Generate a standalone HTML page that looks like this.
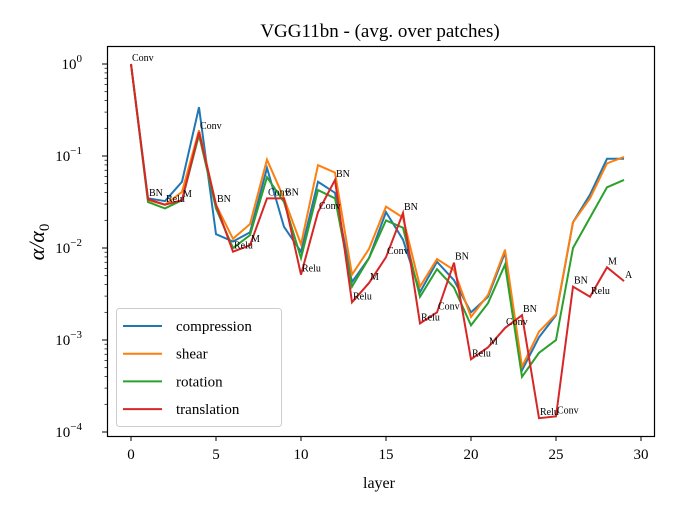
<!DOCTYPE html>
<html><head><meta charset="utf-8"><style>
html,body{margin:0;padding:0;background:#fff;}
svg{display:block;font-family:"Liberation Serif","DejaVu Serif",serif;}
</style></head><body>
<svg id="chart" width="674" height="512" viewBox="0 0 674 512">
<rect width="674" height="512" fill="#fff"/>
<text x="380" y="37" font-size="19" text-anchor="middle">VGG11bn - (avg. over patches)</text>
<text x="379" y="488" font-size="16" text-anchor="middle">layer</text>
<text transform="translate(44,242) rotate(-90)" font-size="22" font-style="italic" text-anchor="middle">α/α<tspan font-size="15" dy="5" font-style="normal">0</tspan></text>
<g id="grid"></g>
<g id="series"></g>
<g id="annots"></g>
<rect x="107.5" y="46.5" width="547" height="390" fill="none" stroke="#000" stroke-width="1.2"/>
<g id="legend"></g>
</svg>
<script>
// layer index
const layers = [0,1,2,3,4,5,6,7,8,9,10,11,12,13,14,15,16,17,18,19,20,21,22,23,24,25,26,27,28,29];
// log10(alpha/alpha0) per series
const compressionLog = [0,-1.46,-1.49,-1.28,-0.47,-1.85,-1.93,-1.83,-1.13,-1.77,-2.04,-1.28,-1.40,-2.37,-2.11,-1.61,-1.91,-2.48,-2.15,-2.35,-2.70,-2.53,-2.05,-3.33,-2.97,-2.73,-1.72,-1.42,-1.03,-1.03];
const shearLog = [0,-1.48,-1.53,-1.39,-0.72,-1.53,-1.90,-1.74,-1.04,-1.46,-1.96,-1.10,-1.18,-2.29,-2.01,-1.55,-1.67,-2.42,-2.12,-2.24,-2.75,-2.51,-2.02,-3.29,-2.91,-2.72,-1.72,-1.46,-1.08,-1.01];
const rotationLog = [0,-1.50,-1.57,-1.48,-0.77,-1.57,-2.00,-1.86,-1.23,-1.50,-2.11,-1.37,-1.46,-2.42,-2.11,-1.70,-1.78,-2.53,-2.23,-2.43,-2.84,-2.60,-2.18,-3.40,-3.14,-3.00,-2.00,-1.67,-1.34,-1.26];
const translationLog = [0,-1.47,-1.53,-1.48,-0.74,-1.53,-2.04,-1.97,-1.46,-1.46,-2.29,-1.61,-1.26,-2.59,-2.38,-2.10,-1.62,-2.82,-2.70,-2.16,-3.21,-3.08,-2.87,-2.73,-3.85,-3.83,-2.42,-2.53,-2.21,-2.36];
const layerNames = ["Conv","BN","Relu","M","Conv","BN","Relu","M","Conv","BN","Relu","Conv","BN","Relu","M","Conv","BN","Relu","Conv","BN","Relu","M","Conv","BN","Relu","Conv","BN","Relu","M","A"];
const xTicks = [0,5,10,15,20,25,30];
const yTickExps = [0,-1,-2,-3,-4];
const seriesNames = ["compression","shear","rotation","translation"];

const NS="http://www.w3.org/2000/svg";
function X(v){return 131+v*17;}
function Y(e){return 64-e*92;}
function mk(tag,attrs,parent){const el=document.createElementNS(NS,tag);for(const k in attrs)el.setAttribute(k,attrs[k]);parent.appendChild(el);return el;}
const grid=document.getElementById('grid');
xTicks.forEach(t=>{
  const l=mk('line',{x1:X(t),x2:X(t),y1:436,y2:441,stroke:'#000','stroke-width':1},grid);
  
  
  const tx=mk('text',{x:X(t),y:459,'font-size':15,'text-anchor':'middle'},grid);
  tx.textContent=t;
  
  
});
yTickExps.forEach(e=>{
  const l=mk('line',{x1:102,x2:107,y1:Y(e),y2:Y(e),stroke:'#000','stroke-width':1},grid);
  
  
  const tx=mk('text',{x:82,y:Y(e)+5,'font-size':15,'text-anchor':'end'},grid);
  tx.textContent='10';
  mk('tspan',{dy:-7,'font-size':11},tx).textContent=String(e).replace('-','−');
  
  
  if(e>-4||true){
    for(let m=2;m<10;m++){
      const yy=Y(e-1+Math.log10(m));
      if(yy<47||yy>436)continue;
      const ml=mk('line',{x1:104.5,x2:107,y1:yy,y2:yy,stroke:'#000','stroke-width':0.7},grid);
      
      
    }
  }
});
const colors=['#1f77b4','#ff7f0e','#2ca02c','#d62728'];
const data=[compressionLog,shearLog,rotationLog,translationLog];
const sg=document.getElementById('series');
data.forEach((s,i)=>{
  const p=mk('polyline',{points:s.map((v,j)=>X(layers[j])+','+Y(v)).join(' '),fill:'none',stroke:colors[i],'stroke-width':2,'stroke-linejoin':'miter'},sg);
  
  
});
const ag=document.getElementById('annots');
translationLog.forEach((v,j)=>{
  const t=mk('text',{x:X(layers[j])+1,y:Y(v)-3,'font-size':10},ag);
  t.textContent=layerNames[j];
  
  
});
const lg=document.getElementById('legend');
const box=mk('rect',{x:116.5,y:308.5,width:165,height:118,rx:3,fill:'#fff','fill-opacity':0.8,stroke:'#ccc'},lg);


seriesNames.forEach((n,i)=>{
  const y=326+i*27.7;
  const l=mk('line',{x1:123,x2:162,y1:y,y2:y,stroke:colors[i],'stroke-width':2},lg);
  
  
  const t=mk('text',{x:176,y:y+5,'font-size':15},lg);
  t.textContent=n;
  
  
});
</script>
</body></html>
